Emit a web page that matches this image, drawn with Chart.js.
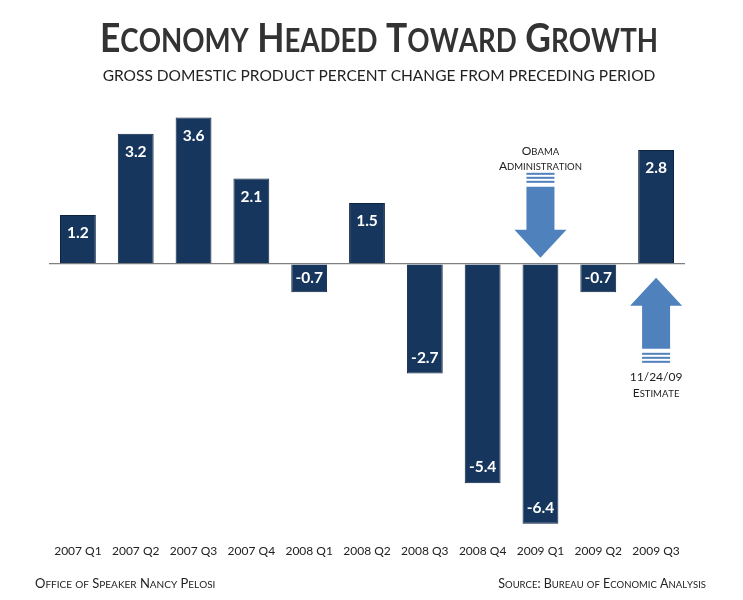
<!DOCTYPE html>
<html><head><meta charset="utf-8">
<script src="https://cdn.jsdelivr.net/npm/chart.js@4/dist/chart.umd.min.js"></script>
<style>html,body{margin:0;padding:0;background:#fff;}#wrap{width:743px;height:600px;position:relative;}</style>
</head><body><div id="wrap"><canvas id="c" width="743" height="600"></canvas></div>
<script>
const categories = ['2007 Q1','2007 Q2','2007 Q3','2007 Q4','2008 Q1','2008 Q2','2008 Q3','2008 Q4','2009 Q1','2009 Q2','2009 Q3'];
const gdpChange = [1.2, 3.2, 3.6, 2.1, -0.7, 1.5, -2.7, -5.4, -6.4, -0.7, 2.8];
const titleText = 'Economy Headed Toward Growth';
const subtitleText = 'GROSS DOMESTIC PRODUCT PERCENT CHANGE FROM PRECEDING PERIOD';
const footerLeft = 'Office of Speaker Nancy Pelosi';
const footerRight = 'Source: Bureau of Economic Analysis';
const obamaNote = ['Obama', 'Administration'];
const estimateNote = ['11/24/09', 'Estimate'];
const obamaIndex = 8, estimateIndex = 10;

const FAM = 'Lato, "Open Sans", sans-serif';
const BAR = '#17365d';
const ARROW = '#4f81bd';

function scWidth(ctx, text, big, small, weight) {
  let w = 0;
  for (const ch of text) {
    const isSmall = ch !== ch.toUpperCase();
    ctx.font = weight + ' ' + (isSmall ? small : big) + 'px ' + FAM;
    w += ctx.measureText(ch.toUpperCase()).width;
  }
  return w;
}
function drawSC(ctx, text, x, y, big, small, weight, color, align, targetW) {
  let w = scWidth(ctx, text, big, small, weight);
  let sx = 1;
  if (targetW) { sx = targetW / w; }
  const tw = w * sx;
  let cx = align === 'center' ? x - tw / 2 : align === 'right' ? x - tw : x;
  ctx.save();
  ctx.translate(cx, y);
  ctx.scale(sx, 1);
  ctx.fillStyle = color;
  ctx.textBaseline = 'alphabetic';
  ctx.textAlign = 'left';
  let px = 0;
  for (const ch of text) {
    const isSmall = ch !== ch.toUpperCase();
    ctx.font = weight + ' ' + (isSmall ? small : big) + 'px ' + FAM;
    ctx.fillText(ch.toUpperCase(), px, 0);
    px += ctx.measureText(ch.toUpperCase()).width;
  }
  ctx.restore();
}
function arrow(ctx, cx, tipY, dir) {
  const headH = 28, headW = 26, shaftW = 14, shaftL = 43;
  const baseY = tipY - dir * headH;
  const shaftEnd = baseY - dir * shaftL;
  ctx.fillStyle = ARROW;
  ctx.beginPath();
  ctx.moveTo(cx, tipY);
  ctx.lineTo(cx - headW, baseY);
  ctx.lineTo(cx - shaftW, baseY);
  ctx.lineTo(cx - shaftW, shaftEnd);
  ctx.lineTo(cx + shaftW, shaftEnd);
  ctx.lineTo(cx + shaftW, baseY);
  ctx.lineTo(cx + headW, baseY);
  ctx.closePath();
  ctx.fill();
  for (let i = 1; i <= 3; i++) {
    const sy = shaftEnd - dir * (i * 4);
    ctx.fillRect(cx - shaftW, dir > 0 ? sy - 2 : sy, shaftW * 2, 2);
  }
}

const annot = {
  id: 'annot',
  afterDatasetsDraw(chart) {
    const ctx = chart.ctx;
    const meta = chart.getDatasetMeta(0);
    ctx.save();
    ctx.font = 'bold 15.5px ' + FAM;
    ctx.fillStyle = '#ffffff';
    ctx.textAlign = 'center';
    ctx.textBaseline = 'middle';
    meta.data.forEach((bar, i) => {
      const v = gdpChange[i];
      const h = Math.abs(bar.base - bar.y);
      let ly;
      if (h < 36) ly = (bar.y + bar.base) / 2;
      else ly = v >= 0 ? bar.y + 18 : bar.y - 16;
      ctx.fillText(v.toFixed(1), bar.x, ly);
    });
    const ys = chart.scales.y;
    const zero = ys.getPixelForValue(0);
    const ob = meta.data[obamaIndex];
    arrow(ctx, ob.x, zero - 6, 1);
    drawSC(ctx, obamaNote[0], ob.x, zero - 109, 12, 9.5, 'normal', '#222', 'center');
    drawSC(ctx, obamaNote[1], ob.x, zero - 94, 12, 9.5, 'normal', '#222', 'center');
    const es = meta.data[estimateIndex];
    arrow(ctx, es.x, zero + 14, -1);
    drawSC(ctx, estimateNote[0], es.x, zero + 117, 12, 9.5, 'normal', '#222', 'center');
    drawSC(ctx, estimateNote[1], es.x, zero + 133, 12, 9.5, 'normal', '#222', 'center');
    ctx.restore();
  },
  afterDraw(chart) {
    const ctx = chart.ctx;
    ctx.save();
    drawSC(ctx, titleText, 379, 52, 41, 32, 'bold', '#333333', 'center', 558);
    ctx.font = 'normal 15.5px ' + FAM;
    ctx.fillStyle = '#222';
    ctx.textAlign = 'center';
    ctx.textBaseline = 'alphabetic';
    ctx.fillText(subtitleText, 379, 81);
    drawSC(ctx, footerLeft, 35, 588, 13, 10, 'normal', '#222', 'left');
    drawSC(ctx, footerRight, 706, 588, 12.5, 9.5, 'normal', '#222', 'right');
    ctx.restore();
  }
};

new Chart(document.getElementById('c'), {
  type: 'bar',
  data: {
    labels: categories,
    datasets: [{
      data: gdpChange,
      backgroundColor: BAR,
      borderColor: '#0e2340',
      borderWidth: 1,
      categoryPercentage: 1,
      barPercentage: 0.62
    }]
  },
  options: {
    responsive: false,
    animation: false,
    layout: { padding: { left: 49, right: 58, top: 81, bottom: 34 } },
    plugins: { legend: { display: false }, tooltip: { enabled: false }, title: { display: false } },
    scales: {
      x: {
        grid: { display: false },
        border: { display: false },
        ticks: { color: '#222', font: { family: FAM, size: 12 }, padding: 0, maxRotation: 0, autoSkip: false },
        afterFit(axis) { axis.height = 30; }
      },
      y: {
        min: -6.7, max: 4.5,
        ticks: { display: false, stepSize: 1 },
        border: { display: false },
        grid: {
          drawTicks: false,
          color: (c) => (c.tick && c.tick.value === 0) ? '#808080' : 'rgba(0,0,0,0)',
          lineWidth: 1.2
        },
        afterFit(axis) { axis.width = 0; }
      }
    }
  },
  plugins: [annot]
});
</script></body></html>
